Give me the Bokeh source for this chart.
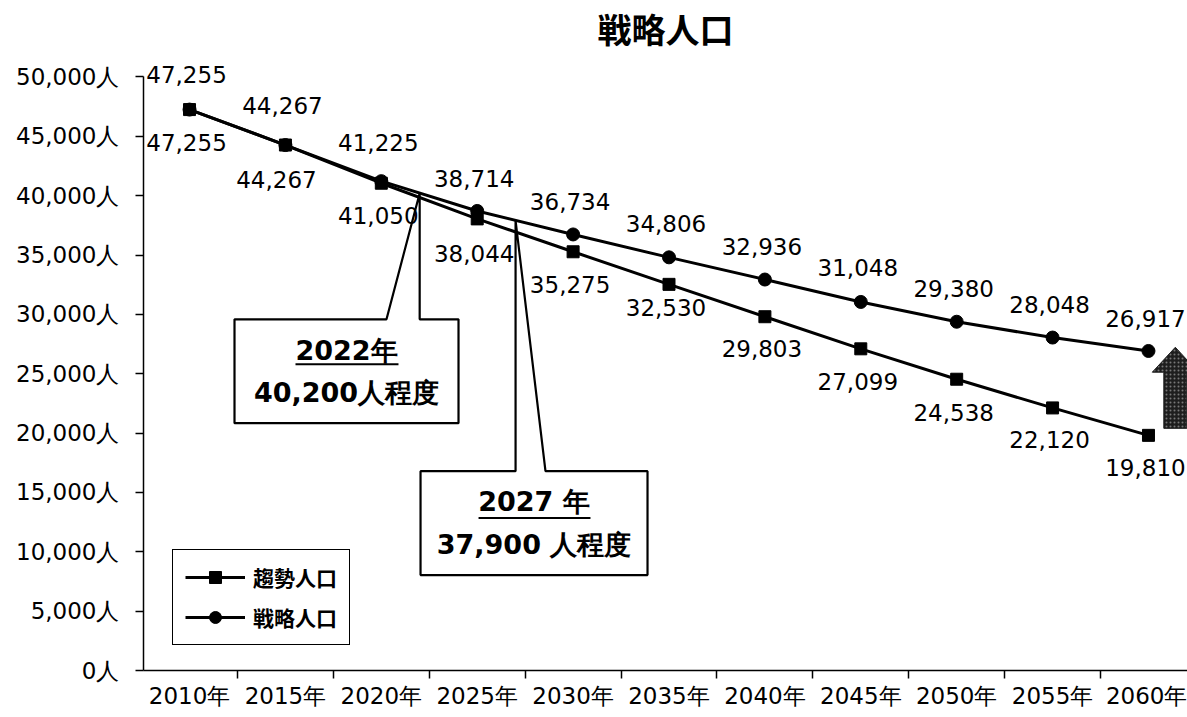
from bokeh.plotting import figure
from bokeh.models import Range1d, FixedTicker, Legend, LegendItem, ColumnDataSource
from bokeh.embed import file_html
from bokeh.resources import INLINE
from bokeh.core.properties import value

# ---- data ----
years = ["2010年", "2015年", "2020年", "2025年", "2030年", "2035年",
         "2040年", "2045年", "2050年", "2055年", "2060年"]
trend = [47255, 44267, 41050, 38044, 35275, 32530, 29803, 27099, 24538, 22120, 19810]
strategy = [47255, 44267, 41225, 38714, 36734, 34806, 32936, 31048, 29380, 28048, 26917]
y_ticks = [0, 5000, 10000, 15000, 20000, 25000, 30000, 35000, 40000, 45000, 50000]
callout_years = [2022, 2027]
callout_values = [40200, 37900]
callout_heads = ["2022年", "2027 年"]
callout_bodies = ["40,200人程度", "37,900 人程度"]

# ---- label placement (screen px offsets, style only) ----
up_dy = [-35, -40, -39, -32, -33, -34, -33, -34, -33, -33, -32]
dn_dy = [33, 34, 32, 35, 33, 23, 32, 33, 33, 32, 32]
dn_dx = [-3, -9, -3, -3, -3, -3, -3, -3, -3, -3, -3]

NUM_FONT = "DejaVu Sans"
CJK_FONT = "Noto Sans CJK JP"

xi = list(range(len(years)))

p = figure(width=1187, height=717, output_backend="svg", toolbar_location=None,
           x_range=Range1d(-0.48, 10.407), y_range=Range1d(0, 51978),
           min_border_left=143, min_border_right=0, min_border_top=52,
           min_border_bottom=47)
p.outline_line_color = None
p.grid.visible = False
p.background_fill_color = "white"

p.title.text = "戦略人口"
p.title.align = "center"
p.title.text_font = CJK_FONT
p.title.text_font_size = "34px"
p.title.text_font_style = "bold"
p.title.text_color = "black"
p.title.standoff = 2

# axes
p.xaxis.ticker = FixedTicker(ticks=xi, minor_ticks=[i - 0.5 for i in xi])
p.xaxis.major_label_overrides = {i: years[i] for i in xi}
p.xaxis.major_tick_out = 0
p.xaxis.major_tick_in = 0
p.xaxis.minor_tick_out = 8
p.xaxis.minor_tick_in = 0
p.xaxis.minor_tick_line_color = "black"
p.xaxis.minor_tick_line_width = 1.5
p.xaxis.major_label_standoff = 4
p.xaxis.major_label_text_font = NUM_FONT
p.xaxis.major_label_text_font_size = "23px"
p.xaxis.major_label_text_color = "black"
p.xaxis.axis_line_color = "black"
p.xaxis.axis_line_width = 1.5

p.yaxis.ticker = FixedTicker(ticks=y_ticks, minor_ticks=[])
p.yaxis.major_label_overrides = {t: f"{t:,}人" for t in y_ticks}
p.yaxis.bounds = (y_ticks[0], y_ticks[-1])
p.yaxis.major_tick_out = 8
p.yaxis.major_tick_in = 0
p.yaxis.major_tick_line_color = "black"
p.yaxis.major_tick_line_width = 1.5
p.yaxis.major_label_standoff = 16
p.yaxis.major_label_text_font = NUM_FONT
p.yaxis.major_label_text_font_size = "23px"
p.yaxis.major_label_text_color = "black"
p.yaxis.axis_line_color = "black"
p.yaxis.axis_line_width = 1.5

# ---- callout boxes (annotation layout in data space) ----
boxes = [
    dict(left=0.469, right=2.805, top=29588, bottom=20833, nl=2.054, nr=None,
         head_y=26978, body_y=23443, ul=(1.105, 2.179, 25800)),
    dict(left=2.409, right=4.776, top=16793, bottom=8039, nl=None, nr=3.712,
         head_y=14268, body_y=10648, ul=(3.014, 4.181, 12837)),
]
for k, b in enumerate(boxes):
    ax = (callout_years[k] - 2010) / 5
    ay = callout_values[k]
    nl = b["nl"] if b["nl"] is not None else ax
    nr = b["nr"] if b["nr"] is not None else ax
    xs = [b["left"], b["left"], nl, ax, nr, b["right"], b["right"]]
    ys = [b["bottom"], b["top"], b["top"], ay, b["top"], b["top"], b["bottom"]]
    p.patch(xs, ys, fill_color="white", line_color="black", line_width=2.2)
    cx = (b["left"] + b["right"]) / 2
    p.text([cx], [b["head_y"]], text=[callout_heads[k]], text_align="center",
           text_baseline="middle", text_font=value(NUM_FONT), text_font_style="bold",
           text_font_size="27px", text_color="black")
    p.text([cx], [b["body_y"]], text=[callout_bodies[k]], text_align="center",
           text_baseline="middle", text_font=value(NUM_FONT), text_font_style="bold",
           text_font_size="27px", text_color="black")
    x0, x1, uy = b["ul"]
    p.segment([x0], [uy], [x1], [uy], line_color="black", line_width=2)

# ---- up arrow at right ----
p.patch([10.28, 10.04, 10.16, 10.16, 10.40, 10.40, 10.52],
        [27230, 25130, 25130, 20400, 20400, 25130, 25130],
        fill_color="#1e1e1e", line_color="#1e1e1e", line_width=1,
        hatch_pattern=".", hatch_color="#777777", hatch_scale=4, hatch_weight=1)

# ---- series ----
src = ColumnDataSource(dict(x=xi, trend=trend, strategy=strategy,
                            tl=[f"{v:,}" for v in trend],
                            sl=[f"{v:,}" for v in strategy],
                            up_dy=up_dy, dn_dy=dn_dy, dn_dx=dn_dx))

l1 = p.line("x", "trend", source=src, line_color="black", line_width=3)
m1 = p.scatter("x", "trend", source=src, marker="square", size=12,
               fill_color="black", line_color="black")
l2 = p.line("x", "strategy", source=src, line_color="black", line_width=3)
m2 = p.scatter("x", "strategy", source=src, marker="circle", size=13,
               fill_color="black", line_color="black")

p.text("x", "strategy", text="sl", source=src, x_offset=-3, y_offset="up_dy",
       text_align="center", text_baseline="middle", text_font=value(NUM_FONT),
       text_font_size="23px", text_color="black")
p.text("x", "trend", text="tl", source=src, x_offset="dn_dx", y_offset="dn_dy",
       text_align="center", text_baseline="middle", text_font=value(NUM_FONT),
       text_font_size="23px", text_color="black")

legend = Legend(items=[LegendItem(label="趨勢人口", renderers=[l1, m1]),
                       LegendItem(label="戦略人口", renderers=[l2, m2])],
                location=(29, 25), glyph_width=60, glyph_height=30,
                label_height=30, spacing=10, padding=12, margin=0,
                label_standoff=8, border_line_color="black", border_line_width=1.8,
                border_line_alpha=1.0,
                background_fill_color="white", background_fill_alpha=1,
                label_text_font=CJK_FONT, label_text_font_size="21px",
                label_text_font_style="bold", label_text_color="black")
p.add_layout(legend)

open("out.html", "w").write(file_html(p, INLINE))
